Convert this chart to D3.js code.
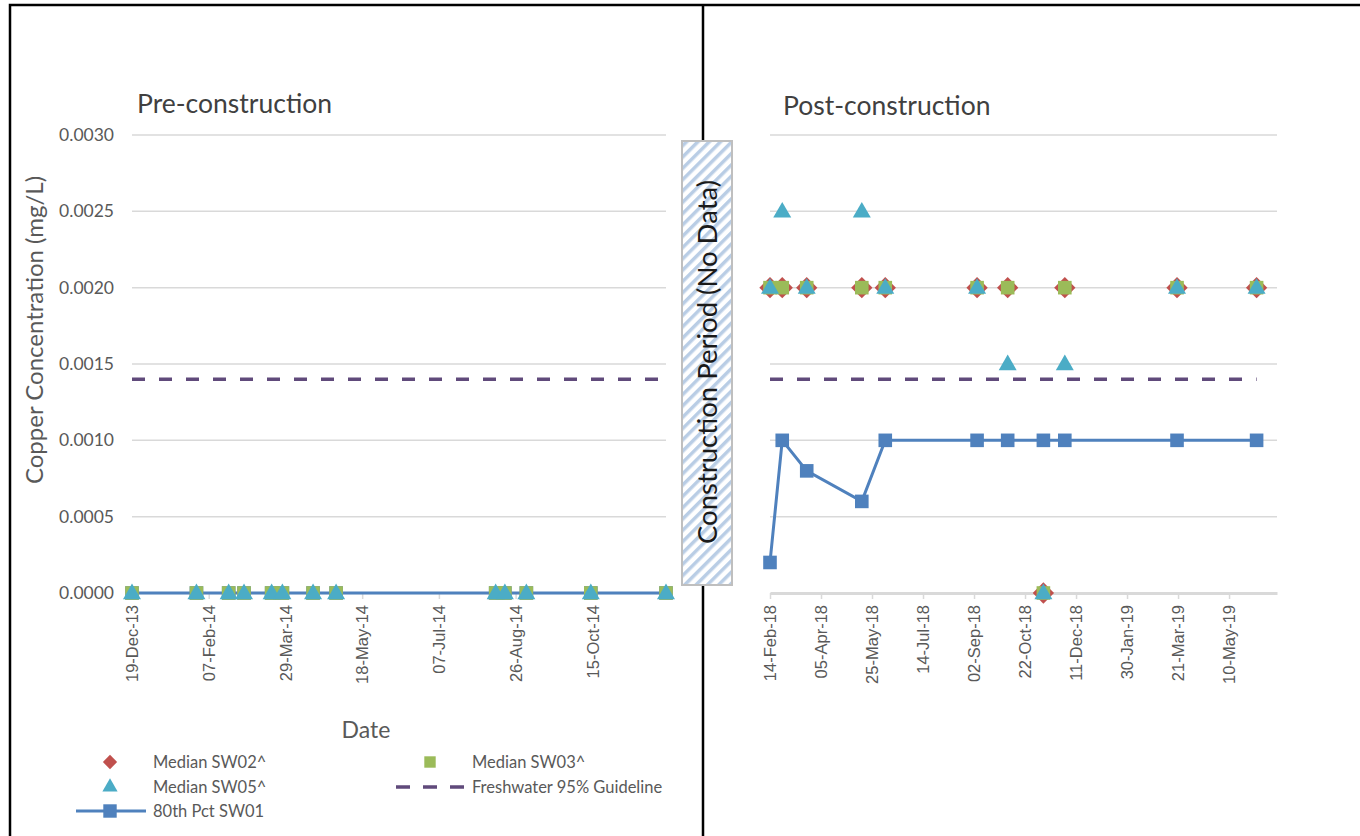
<!DOCTYPE html>
<html>
<head>
<meta charset="utf-8">
<script src="https://cdn.jsdelivr.net/npm/d3@7"></script>
<style>
  body { margin: 0; background: #fff; }
  svg { font-family: Lato, "Open Sans", sans-serif; }
  .grid line { stroke: #d9d9d9; stroke-width: 1.5; }
  .tick-lbl { fill: #595959; font-size: 16.5px; }
  .ylbl { fill: #595959; font-size: 17.5px; }
</style>
</head>
<body>
<svg id="chart" width="1360" height="836"></svg>
<script>
// pre-construction samples
const preDates = ["2013-12-19", "2014-01-30", "2014-02-20", "2014-03-02", "2014-03-20", "2014-03-27",
  "2014-04-16", "2014-05-01", "2014-08-13", "2014-08-19", "2014-09-02", "2014-10-14", "2014-12-02"];
const preSW01 = [0, 0, 0, 0, 0, 0, 0, 0, 0, 0, 0, 0, 0];
const preSW03 = [0, 0, 0, 0, 0, 0, 0, 0, 0, 0, 0, 0, 0];
const preSW05 = [0, 0, 0, 0, 0, 0, 0, 0, 0, 0, 0, 0, 0];

// post-construction samples
const postDates = ["2018-02-14", "2018-02-26", "2018-03-22", "2018-05-15", "2018-06-07", "2018-09-05",
  "2018-10-05", "2018-11-09", "2018-11-30", "2019-03-20", "2019-06-06"];
const postSW01 = [0.0002, 0.001, 0.0008, 0.0006, 0.001, 0.001, 0.001, 0.001, 0.001, 0.001, 0.001];
const postSW02 = [0.002, 0.002, 0.002, 0.002, 0.002, 0.002, 0.002, 0, 0.002, 0.002, 0.002];
const postSW03 = [0.002, 0.002, 0.002, 0.002, 0.002, 0.002, 0.002, 0, 0.002, 0.002, 0.002];
const postSW05 = [0.002, 0.0025, 0.002, 0.0025, 0.002, 0.002, 0.0015, 0, 0.0015, 0.002, 0.002];

const guideline = 0.0014;
const yTicks = [0, 0.0005, 0.001, 0.0015, 0.002, 0.0025, 0.003];
const preDomain = ["2013-12-19", "2014-12-02"];
const postDomain = ["2018-02-14", "2019-06-26"];
const preTicks = ["2013-12-19", "2014-02-07", "2014-03-29", "2014-05-18", "2014-07-07", "2014-08-26", "2014-10-15"];
const postTicks = ["2018-02-14", "2018-04-05", "2018-05-25", "2018-07-14", "2018-09-02", "2018-10-22",
  "2018-12-11", "2019-01-30", "2019-03-21", "2019-05-10"];

const legendNames = ["Median SW02^", "Median SW03^", "Median SW05^", "Freshwater 95% Guideline", "80th Pct SW01"];
const colors = { sw01: "#4f81bd", sw02: "#c0504d", sw03: "#9bbb59", sw05: "#4bacc6", guide: "#604a7b" };

const parse = d3.utcParse("%Y-%m-%d");
const fmt = d3.utcFormat("%d-%b-%y");
const svg = d3.select("#chart");

const yScale = d3.scaleLinear().domain([0, 0.003]).range([593, 135]);

// hatch for the construction box
const defs = svg.append("defs");
const pat = defs.append("pattern")
  .attr("id", "hatch").attr("patternUnits", "userSpaceOnUse")
  .attr("width", 8).attr("height", 8)
  .attr("patternTransform", "rotate(45)");
pat.append("rect").attr("width", 8).attr("height", 8).attr("fill", "#fff");
pat.append("rect").attr("width", 3.5).attr("height", 8).attr("fill", "#b9cde5");

const diamond = d3.symbol().type(d3.symbolDiamond2).size(290);
const square = d3.symbol().type(d3.symbolSquare).size(185);
const triangle = d3.symbol().type(d3.symbolTriangle).size(140);

function panel(dates, domain, ticks, range, series, showYLabels, axisLine) {
  const x = d3.scaleUtc().domain(domain.map(parse)).range(range);
  const g = svg.append("g");

  // gridlines
  g.append("g").attr("class", "grid")
    .selectAll("line").data(yTicks.slice(1)).enter().append("line")
    .attr("x1", range[0]).attr("x2", range[1])
    .attr("y1", d => yScale(d)).attr("y2", d => yScale(d));

  if (showYLabels) {
    g.selectAll(".ylbl").data(yTicks).enter().append("text")
      .attr("class", "ylbl")
      .attr("x", range[0] - 18).attr("y", d => yScale(d) + 6)
      .attr("text-anchor", "end")
      .text(d => d.toFixed(4));
  }

  // x axis
  const xAxis = d3.axisBottom(x).tickValues(ticks.map(parse)).tickFormat(fmt).tickSize(6).tickSizeOuter(0);
  const ax = g.append("g").attr("transform", `translate(0,${yScale(0)})`).call(xAxis);
  ax.select(".domain").attr("stroke", "#d9d9d9").attr("stroke-width", axisLine ? 3 : 1.5);
  ax.selectAll(".tick line").attr("stroke", "#d9d9d9").attr("stroke-width", 1.5);
  ax.selectAll(".tick text")
    .attr("class", "tick-lbl")
    .attr("transform", "rotate(-90)")
    .attr("text-anchor", "end")
    .attr("x", -12).attr("y", 0).attr("dy", "0.35em");

  const pts = dates.map(parse);

  // guideline
  g.append("line")
    .attr("x1", x(pts[0])).attr("x2", x(pts[pts.length - 1]))
    .attr("y1", yScale(guideline)).attr("y2", yScale(guideline))
    .attr("stroke", colors.guide).attr("stroke-width", 3.5).attr("stroke-dasharray", "13,14");

  // 80th pct line
  const line = d3.line().x((d, i) => x(pts[i])).y(d => yScale(d));
  g.append("path").datum(series.sw01)
    .attr("d", line).attr("fill", "none")
    .attr("stroke", colors.sw01).attr("stroke-width", 3);
  g.selectAll(".m01").data(series.sw01).enter().append("path")
    .attr("transform", (d, i) => `translate(${x(pts[i])},${yScale(d)})`)
    .attr("d", square).attr("fill", colors.sw01);

  const layers = [["sw02", diamond], ["sw03", square], ["sw05", triangle]];
  layers.forEach(function (l) {
    const vals = series[l[0]];
    if (!vals) return;
    g.selectAll(".m" + l[0]).data(vals).enter().append("path")
      .attr("transform", (d, i) => `translate(${x(pts[i])},${yScale(d) + (l[1] === triangle ? 1 : 0)})`)
      .attr("d", l[1]).attr("fill", colors[l[0]]);
  });
}

panel(preDates, preDomain, preTicks, [132, 666],
  { sw01: preSW01, sw03: preSW03, sw05: preSW05 }, true, false);
panel(postDates, postDomain, postTicks, [770, 1277],
  { sw01: postSW01, sw02: postSW02, sw03: postSW03, sw05: postSW05 }, false, true);

// frame
svg.append("path")
  .attr("d", "M10,836 L10,5 L1360,5 M703,5 L703,836")
  .attr("fill", "none").attr("stroke", "#000").attr("stroke-width", 2.5);

// construction period box
svg.append("rect")
  .attr("x", 682).attr("y", 141).attr("width", 50).attr("height", 444)
  .attr("fill", "url(#hatch)").attr("stroke", "#bfbfbf").attr("stroke-width", 2);
svg.append("text")
  .attr("transform", "translate(717,362) rotate(-90)")
  .attr("text-anchor", "middle")
  .attr("font-size", 27.5).attr("fill", "#1a1a1a")
  .text("Construction Period (No Data)");

// titles
svg.append("text").attr("x", 137).attr("y", 113).attr("font-size", 26.5).attr("fill", "#404040")
  .text("Pre-construction");
svg.append("text").attr("x", 783).attr("y", 115).attr("font-size", 26.5).attr("fill", "#404040")
  .text("Post-construction");
svg.append("text").attr("transform", "translate(43,330) rotate(-90)")
  .attr("text-anchor", "middle").attr("font-size", 24).attr("fill", "#595959")
  .text("Copper Concentration (mg/L)");
svg.append("text").attr("x", 366).attr("y", 738).attr("text-anchor", "middle")
  .attr("font-size", 23).attr("fill", "#595959").text("Date");

// legend
const lg = svg.append("g").attr("font-size", 16.5).attr("fill", "#595959");
const legendPos = [[110, 153, 762], [430, 472, 762], [110, 153, 787], [430, 472, 787], [110, 153, 811]];
const legendMark = ["sw02", "sw03", "sw05", "guide", "sw01"];
legendNames.forEach(function (d, i) {
  const p = legendPos[i];
  const key = legendMark[i];
  if (key === "guide") {
    lg.append("line").attr("x1", 396).attr("x2", 464).attr("y1", p[2]).attr("y2", p[2])
      .attr("stroke", colors.guide).attr("stroke-width", 3.5).attr("stroke-dasharray", "14,13");
  } else if (key === "sw01") {
    lg.append("line").attr("x1", 76).attr("x2", 146).attr("y1", p[2]).attr("y2", p[2])
      .attr("stroke", colors.sw01).attr("stroke-width", 3);
    lg.append("path").attr("transform", `translate(${p[0]},${p[2]})`)
      .attr("d", d3.symbol().type(d3.symbolSquare).size(180)).attr("fill", colors.sw01);
  } else {
    const t = key === "sw02" ? d3.symbolDiamond2 : key === "sw03" ? d3.symbolSquare : d3.symbolTriangle;
    const s = key === "sw02" ? 130 : key === "sw03" ? 130 : 100;
    lg.append("path").attr("transform", `translate(${p[0]},${p[2]})`)
      .attr("d", d3.symbol().type(t).size(s)).attr("fill", colors[key]);
  }
  lg.append("text").attr("x", p[1]).attr("y", p[2] + 6).text(d);
});
</script>
</body>
</html>
